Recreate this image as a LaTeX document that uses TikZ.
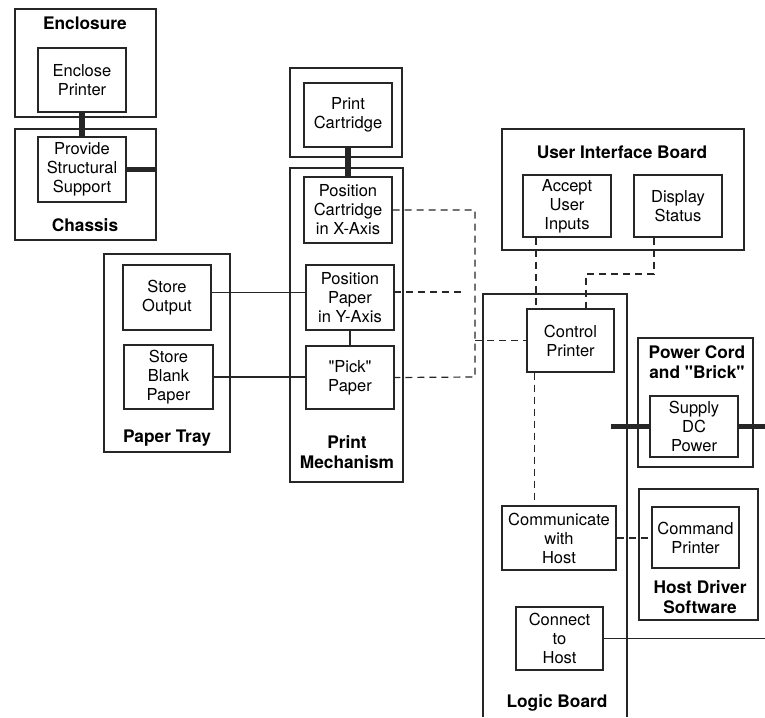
\documentclass[tikz,border=0pt]{standalone}
\usepackage{fontspec}
\setmainfont{TeX Gyre Heros}
\usetikzlibrary{calc}
\newcommand{\fnsize}{\fontsize{16.5}{19}\selectfont}
\newcommand{\grpsize}{\fontsize{17.3}{20}\selectfont\bfseries}

\begin{document}
\begin{tikzpicture}[x=1pt,y=-1pt,
  fn/.style={draw=black!85,line width=1.2pt,align=center,inner sep=0pt,
             minimum width=88pt,minimum height=64pt,font=\fnsize},
  grp/.style={draw=black!85,line width=1.2pt},
  ttl/.style={align=center,inner sep=0pt,font=\grpsize},
  link/.style={black!85,line width=5.5pt},
  wire/.style={black!85,line width=1.2pt},
  sig/.style={black!85,line width=1.2pt,dash pattern=on 7pt off 5pt}]
  \useasboundingbox (0,0) rectangle (765,717);
  % physical groups
  \draw[grp] (15,9) rectangle (156,117);
  \node[ttl] (enct) at (85,23) {Enclosure};
  \draw[grp] (15,129) rectangle (156,240);
  \node[ttl] (chst) at (85,225) {Chassis};
  \draw[grp] (290,68) rectangle (402,157);
  \draw[grp] (290,168) rectangle (403,482);
  \node[ttl] (mecht) at (347,452) {Print\\Mechanism};
  \draw[grp] (104,254) rectangle (230,452);
  \node[ttl] (trayt) at (167,438) {Paper Tray};
  \draw[grp] (502,129) rectangle (744,250);
  \node[ttl] (uibt) at (622,152) {User Interface Board};
  \draw[grp] (483,717) |- (627,294) -- (627,717);
  \node[ttl] (logict) at (557,703) {Logic Board};
  \draw[grp] (638,338) rectangle (753,467);
  \node[ttl] (cordt) at (697,362) {Power Cord\\and \textquotedbl Brick\textquotedbl};
  \draw[grp] (639,489) rectangle (758,620);
  \node[ttl] (drvt) at (700,597) {Host Driver\\Software};
  % functions
  \node[fn] (encl) at (82,80) {Enclose\\Printer};
  \node[fn,minimum height=65pt] (supp) at (82,169.5) {Provide\\Structural\\Support};
  \node[fn] (cart) at (348,115) {Print\\Cartridge};
  \node[fn,minimum height=66pt] (posx) at (348,210) {Position\\Cartridge\\in X-Axis};
  \node[fn,minimum height=65pt] (pp) at (350,297.5) {Position\\Paper\\in Y-Axis};
  \node[fn,minimum height=63pt] (pick) at (350,377.5) {\textquotedbl Pick\textquotedbl\\Paper};
  \node[fn,minimum height=65pt] (stout) at (167,297.5) {Store\\Output};
  \node[fn,minimum width=89pt] (blank) at (168.5,377) {Store\\Blank\\Paper};
  \node[fn,minimum height=62pt] (acc) at (567,206) {Accept\\User\\Inputs};
  \node[fn,minimum height=62pt] (disp) at (678,206) {Display\\Status};
  \node[fn,minimum width=87pt,minimum height=63pt] (ctl) at (570.5,340.5) {Control\\Printer};
  \node[fn,minimum height=61pt] (sup) at (694,426.5) {Supply\\DC\\Power};
  \node[fn,minimum width=114pt] (comm) at (559,538) {Communicate\\with\\Host};
  \node[fn,minimum width=87pt,minimum height=61pt] (cmd) at (695.5,537.5) {Command\\Printer};
  \node[fn,minimum width=87pt,minimum height=63pt] (conn) at (559.5,638.5) {Connect\\to\\Host};
  % free ends
  \coordinate (chsR) at (156,170);
  \coordinate (busB) at (475,377);
  \coordinate (ppend) at (465,292);
  \coordinate (uijog) at (586,274);
  \coordinate (dcL) at (611,426.5);
  \coordinate (dcR) at (765,426.5);
  \coordinate (hostR) at (765,638.5);
  % rigid attachments
  \draw[link] (encl.south) -- (supp.north);
  \draw[link] (supp.east) -- (supp.east -| chsR);
  \draw[link] (cart.south) -- (posx.north);
  \draw[link] (dcL) -- (sup.west);
  \draw[link] (sup.east) -- (dcR);
  % paper path and cables
  \draw[wire] ([yshift=5pt]stout.east) -- ([yshift=5pt]stout.east -| pp.west);
  \draw[wire] (blank.east) -- (blank.east -| pick.west);
  \draw[wire] (pp.south) -- (pick.north);
  \draw[wire] (conn.east) -- (hostR);
  % signals
  \draw[sig] (posx.east) -- (posx.east -| busB) -- (busB) -- (pick.east);
  \draw[sig] ([yshift=5pt]pp.east) -- (pp.east |- ppend) -- (ppend);
  \draw[sig] (busB |- ctl.west) -- (ctl.west);
  \draw[sig] ([xshift=-31pt]acc.south) -- ([xshift=-31pt]acc.south |- ctl.north);
  \draw[sig] ([xshift=-24pt]disp.south) |- (uijog) -- (uijog |- ctl.north);
  \draw[sig] ([xshift=-36pt]ctl.south) -- ([xshift=-36pt]ctl.south |- comm.north);
  \draw[sig] (comm.east) -- (comm.east -| cmd.west);
\end{tikzpicture}
\end{document}
